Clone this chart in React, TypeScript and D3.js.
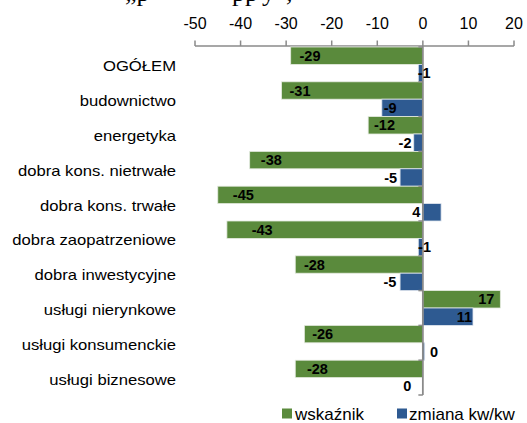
import React from 'react';
import * as d3 from 'd3';

const categories = [
  'OGÓŁEM',
  'budownictwo',
  'energetyka',
  'dobra kons. nietrwałe',
  'dobra kons. trwałe',
  'dobra zaopatrzeniowe',
  'dobra inwestycyjne',
  'usługi nierynkowe',
  'usługi konsumenckie',
  'usługi biznesowe',
];
const wskaznik = [-29, -31, -12, -38, -45, -43, -28, 17, -26, -28];
const zmianaKwKw = [-1, -9, -2, -5, 4, -1, -5, 11, 0.4, 0];
const xTickValues = [-50, -40, -30, -20, -10, 0, 10, 20];
const seriesNames = ['wskaźnik', 'zmiana kw/kw'];
const titleFragments = [
  { t: '„p', x: 125 },
  { t: 'p', x: 232 },
  { t: 'p', x: 245 },
  { t: 'y', x: 262 },
  { t: ',', x: 286 },
];

// label nudges (relative to bar end, text centre)
const greenLabelDx = [19.3, 18.4, 16.3, 21.6, 25.5, 35.3, 19.2, -14.1, 18.3, 22.2];
const blueLabelDx = [5.9, 8.4, -8.7, -9.4, -24.9, 6.2, -10.1, -8.5, 9.3, -15.6];

const GREEN = '#5a8a3c';
const BLUE = '#2e5a91';
const AXIS = '#8a8a8a';
const FONT = '"Liberation Sans", Arial, sans-serif';

const locale = d3.formatLocale({
  decimal: ',',
  thousands: ' ',
  grouping: [3],
  currency: ['', ' zł'],
  minus: '-',
});

export default function App() {
  const x = d3.scaleLinear().domain([-50, 20]).range([195, 514]);
  const y = d3.scaleBand<string>().domain(categories).range([47, 395]).padding(0);
  const bh = y.bandwidth() / 2;
  const x0 = x(0);
  const fmt = locale.format('.0f');

  return (
    <svg
      width={527}
      height={423}
      style={{ position: 'absolute', left: 0, top: 0, display: 'block', background: '#fff' }}
      fontFamily={FONT}
    >
      {/* cropped title */}
      <g fontFamily='"Liberation Serif", "Times New Roman", serif' fontSize={26} fill="#000">
        {titleFragments.map((f, i) => (
          <text key={i} x={f.x} y={1}>
            {f.t}
          </text>
        ))}
      </g>

      {/* top axis */}
      <line x1={x(-50)} x2={x(20)} y1={46} y2={46} stroke={AXIS} strokeWidth={1.5} />
      {xTickValues.map((v) => (
        <g key={v}>
          <line x1={x(v)} x2={x(v)} y1={46} y2={40.5} stroke={AXIS} strokeWidth={1.5} />
          <text x={x(v)} y={28.5} textAnchor="middle" fontSize={16} fill="#000">
            {fmt(v)}
          </text>
        </g>
      ))}

      {/* bars */}
      {categories.map((c, i) => {
        const top = y(c) as number;
        const g = wskaznik[i];
        const b = zmianaKwKw[i];
        return (
          <g key={c}>
            <rect
              x={Math.min(x(g), x0)}
              y={top}
              width={Math.abs(x(g) - x0)}
              height={bh}
              fill={GREEN}
              stroke="#e4eadf"
              strokeWidth={0.8}
            />
            <rect
              x={Math.min(x(b), x0)}
              y={top + bh}
              width={Math.abs(x(b) - x0)}
              height={bh}
              fill={BLUE}
              stroke="#dfe5ee"
              strokeWidth={0.8}
            />
          </g>
        );
      })}

      {/* vertical axis at zero */}
      <line x1={x0} x2={x0} y1={46} y2={395} stroke={AXIS} strokeWidth={1.8} />
      {[...categories.map((c) => y(c) as number), 395].map((yy, i) => (
        <line key={i} x1={x0 - 4.5} x2={x0} y1={yy} y2={yy} stroke={AXIS} strokeWidth={1.5} />
      ))}

      {/* value labels */}
      {categories.map((c, i) => {
        const top = y(c) as number;
        return (
          <g key={'l' + c} fontSize={14.5} fontWeight="bold" fill="#000" textAnchor="middle">
            <text x={x(wskaznik[i]) + greenLabelDx[i]} y={top + bh / 2 + 5}>
              {fmt(wskaznik[i])}
            </text>
            <text x={x(zmianaKwKw[i]) + blueLabelDx[i]} y={top + bh + bh / 2 + 5}>
              {fmt(zmianaKwKw[i])}
            </text>
          </g>
        );
      })}

      {/* category labels */}
      {categories.map((c) => (
        <text
          key={'c' + c}
          transform={`translate(176,${(y(c) as number) + y.bandwidth() / 2 + 7}) scale(1.14,1)`}
          textAnchor="end"
          fontSize={14.6}
          fill="#000"
        >
          {c}
        </text>
      ))}

      {/* legend */}
      <rect x={282} y={408.5} width={10} height={10} fill={GREEN} />
      <text x={295} y={419.5} fontSize={17} fill="#000">
        {seriesNames[0]}
      </text>
      <rect x={397} y={408.5} width={10} height={10} fill={BLUE} />
      <text x={409} y={419.5} fontSize={17} fill="#000">
        {seriesNames[1]}
      </text>
    </svg>
  );
}
